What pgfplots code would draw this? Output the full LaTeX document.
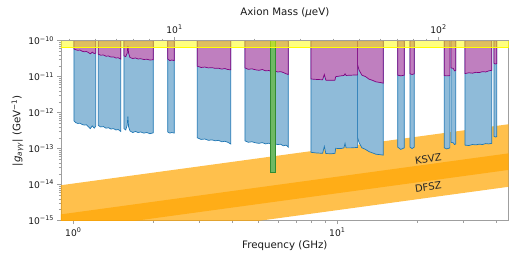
\documentclass[border=0pt]{standalone}
\usepackage{fontspec}
\setmainfont{DejaVu Sans}
\usepackage{pgfplots}
\pgfplotsset{compat=1.18}
\definecolor{bfill}{RGB}{143,187,217}
\definecolor{bedge}{RGB}{31,119,180}
\definecolor{pfill}{RGB}{191,127,191}
\definecolor{pedge}{RGB}{128,0,128}
\definecolor{gfill}{RGB}{110,185,100}
\definecolor{gedge}{RGB}{50,140,50}
\definecolor{orng}{RGB}{255,165,0}
\definecolor{ylw}{RGB}{255,255,0}
\pgfplotsset{
  myaxbase/.style={scale only axis, width=448bp, height=180bp,
    tick align=outside, axis line style={gray!75, line width=0.6pt},
    every tick/.style={gray!75, line width=0.5pt},
    major tick length=3.5bp, minor tick length=2bp,
    tick label style={font=\fontsize{9.2}{10}\selectfont, text=black!90},
    label style={font=\fontsize{10.3}{12}\selectfont, text=black!90}},
  blu/.style={fill=bfill, draw=bedge, line width=0.7pt},
  pur/.style={fill=pfill, draw=pedge, line width=0.7pt},
}
\begin{document}
\begin{tikzpicture}
\begin{axis}[myaxbase, xmode=log, xmin=0.898, xmax=44.6, ymode=log, ymin=1e-15, ymax=1e-10,
  xtick pos=left, ytick pos=left,
  xtick={1,10}, xticklabels={10\textsuperscript{0},10\textsuperscript{1}},
  minor xtick={2,3,4,5,6,7,8,9,20,30,40},
  ytick={1e-15,1e-14,1e-13,1e-12,1e-11,1e-10},
  yticklabels={10\textsuperscript{−15},10\textsuperscript{−14},10\textsuperscript{−13},10\textsuperscript{−12},10\textsuperscript{−11},10\textsuperscript{−10}},
  minor ytick={2e-15,3e-15,4e-15,5e-15,6e-15,7e-15,8e-15,9e-15,2e-14,3e-14,4e-14,5e-14,6e-14,7e-14,8e-14,9e-14,2e-13,3e-13,4e-13,5e-13,6e-13,7e-13,8e-13,9e-13,2e-12,3e-12,4e-12,5e-12,6e-12,7e-12,8e-12,9e-12,2e-11,3e-11,4e-11,5e-11,6e-11,7e-11,8e-11,9e-11},
  xlabel={Frequency (GHz)},
  ylabel={|\textit{g}\textsubscript{\textit{aγγ}}| (GeV\textsuperscript{−1})},
  xlabel style={yshift=2bp}, ylabel style={yshift=-2bp},
]
% QCD axion bands
\addplot[fill=orng, fill opacity=0.7, draw=none] coordinates {(0.898,9.61e-15) (44.6,4.77e-13) (44.6,2.56e-14) (0.898,5.16e-16)} -- cycle;
\addplot[fill=orng, fill opacity=0.7, draw=none] coordinates {(0.898,1.49e-15) (44.6,7.40e-14) (44.6,8.70e-15) (0.898,1.75e-16)} -- cycle;
% blue regions
\addplot[blu] coordinates {(1.006,1e-10) (1.006,5.9e-13) (1.02,5.3e-13) (1.04,5.0e-13) (1.06,5.1e-13) (1.08,4.7e-13) (1.10,4.5e-13) (1.12,4.6e-13) (1.14,4.1e-13) (1.16,3.6e-13) (1.18,4.3e-13) (1.20,3.7e-13) (1.216,4.2e-13) (1.216,1e-10)} -- cycle;
\addplot[blu] coordinates {(1.244,1e-10) (1.244,4.4e-13) (1.27,4.0e-13) (1.30,4.1e-13) (1.33,3.7e-13) (1.36,3.8e-13) (1.39,3.5e-13) (1.42,3.6e-13) (1.45,3.3e-13) (1.48,3.4e-13) (1.512,3.0e-13) (1.512,1e-10)} -- cycle;
\addplot[blu] coordinates {(1.556,1e-10) (1.556,3.6e-13) (1.58,3.3e-13) (1.60,4.5e-13) (1.61,7.8e-13) (1.62,4.0e-13) (1.64,3.1e-13) (1.68,2.8e-13) (1.72,3.0e-13) (1.76,2.8e-13) (1.80,2.9e-13) (1.85,2.7e-13) (1.90,2.8e-13) (1.95,2.6e-13) (2.01,2.75e-13) (2.01,1e-10)} -- cycle;
\addplot[blu] coordinates {(2.279,1e-10) (2.279,2.9e-13) (2.32,2.7e-13) (2.36,2.8e-13) (2.414,2.7e-13) (2.414,1e-10)} -- cycle;
\addplot[blu] coordinates {(2.949,1e-10) (2.949,2.0e-13) (3.05,1.8e-13) (3.15,1.85e-13) (3.25,1.7e-13) (3.35,1.75e-13) (3.45,1.65e-13) (3.55,1.7e-13) (3.65,1.55e-13) (3.75,1.6e-13) (3.85,1.5e-13) (3.947,1.35e-13) (3.947,1e-10)} -- cycle;
\addplot[blu] coordinates {(4.47,1e-10) (4.47,1.65e-13) (4.6,1.5e-13) (4.75,1.55e-13) (4.9,1.45e-13) (5.05,1.4e-13) (5.2,1.47e-13) (5.35,1.35e-13) (5.5,1.42e-13) (5.65,1.3e-13) (5.8,1.35e-13) (5.95,1.3e-13) (6.1,1.32e-13) (6.25,1.2e-13) (6.4,1.25e-13) (6.52,1.1e-13) (6.52,1e-10)} -- cycle;
\addplot[blu] coordinates {(7.95,1e-10) (7.95,7.9e-14) (8.3,7.6e-14) (8.8,7.4e-14) (8.93,1.15e-13) (9.05,7.3e-14) (9.5,7.2e-14) (9.8,7.4e-14) (9.86,1.02e-13) (10.3,1.0e-13) (10.6,1.05e-13) (10.7,1.4e-13) (10.8,1.05e-13) (11.3,1.05e-13) (11.94,1.08e-13) (11.94,1e-10)} -- cycle;
\addplot[blu] coordinates {(11.94,1e-10) (11.94,2.0e-13) (12.1,1.45e-13) (12.4,1.05e-13) (12.8,9.5e-14) (13.2,8.2e-14) (13.6,7.6e-14) (14.0,7.0e-14) (14.5,6.8e-14) (14.93,6.6e-14) (14.93,1e-10)} -- cycle;
\addplot[blu] coordinates {(16.94,1e-10) (16.94,1.1e-13) (17.4,9.5e-14) (17.94,1.05e-13) (17.94,1e-10)} -- cycle;
\addplot[blu] coordinates {(18.86,1e-10) (18.86,1.1e-13) (19.2,1.0e-13) (19.57,1.1e-13) (19.57,1e-10)} -- cycle;
\addplot[blu] coordinates {(25.43,1e-10) (25.43,1.05e-13) (26.0,9.8e-14) (26.7,1.05e-13) (26.7,1e-10)} -- cycle;
\addplot[blu] coordinates {(26.96,1e-10) (26.96,1.5e-13) (27.5,1.45e-13) (27.8,1.3e-13) (28.09,1.35e-13) (28.09,1e-10)} -- cycle;
\addplot[blu] coordinates {(30.46,1e-10) (30.46,1.25e-13) (31.5,1.22e-13) (32.5,1.3e-13) (33.5,1.27e-13) (34.5,1.33e-13) (35.5,1.3e-13) (36.5,1.38e-13) (37.5,1.35e-13) (38.45,1.4e-13) (38.45,1e-10)} -- cycle;
\addplot[blu] coordinates {(39.23,1e-10) (39.23,2.2e-13) (39.7,2.1e-13) (40.17,2.15e-13) (40.17,1e-10)} -- cycle;
% purple regions
\addplot[pur] coordinates {(1.006,1e-10) (1.006,5.9e-11) (1.02,5.6e-11) (1.04,5.4e-11) (1.06,5.5e-11) (1.08,5.1e-11) (1.10,4.9e-11) (1.12,5.0e-11) (1.14,4.7e-11) (1.16,4.3e-11) (1.18,4.8e-11) (1.20,4.4e-11) (1.216,4.5e-11) (1.216,1e-10)} -- cycle;
\addplot[pur] coordinates {(1.244,1e-10) (1.244,4.2e-11) (1.27,3.95e-11) (1.30,4.0e-11) (1.33,3.7e-11) (1.36,3.75e-11) (1.39,3.5e-11) (1.42,3.55e-11) (1.45,3.3e-11) (1.48,3.35e-11) (1.512,3.1e-11) (1.512,1e-10)} -- cycle;
\addplot[pur] coordinates {(1.556,1e-10) (1.556,3.8e-11) (1.58,3.6e-11) (1.60,4.5e-11) (1.61,7.1e-11) (1.62,4.5e-11) (1.64,3.4e-11) (1.68,3.2e-11) (1.72,3.3e-11) (1.76,3.1e-11) (1.80,3.15e-11) (1.85,3.0e-11) (1.90,3.05e-11) (1.95,2.9e-11) (2.01,2.95e-11) (2.01,1e-10)} -- cycle;
\addplot[pur] coordinates {(2.279,1e-10) (2.279,3.1e-11) (2.32,2.8e-11) (2.36,2.9e-11) (2.414,2.8e-11) (2.414,1e-10)} -- cycle;
\addplot[pur] coordinates {(2.949,1e-10) (2.949,1.95e-11) (3.05,1.8e-11) (3.15,1.85e-11) (3.25,1.75e-11) (3.35,1.78e-11) (3.45,1.7e-11) (3.55,1.72e-11) (3.65,1.62e-11) (3.75,1.68e-11) (3.85,1.58e-11) (3.947,1.55e-11) (3.947,1e-10)} -- cycle;
\addplot[pur] coordinates {(4.47,1e-10) (4.47,1.75e-11) (4.6,1.6e-11) (4.75,1.65e-11) (4.9,1.55e-11) (5.05,1.5e-11) (5.2,1.58e-11) (5.35,1.45e-11) (5.5,1.48e-11) (5.65,1.4e-11) (5.8,1.43e-11) (5.95,1.35e-11) (6.1,1.38e-11) (6.25,1.3e-11) (6.4,1.2e-11) (6.52,1.15e-11) (6.52,1e-10)} -- cycle;
\addplot[pur] coordinates {(7.95,1e-10) (7.95,8.6e-12) (8.3,8.4e-12) (8.8,8.2e-12) (8.93,1.15e-11) (9.05,8.0e-12) (9.5,7.9e-12) (9.8,8.0e-12) (9.86,1.0e-11) (10.3,1.05e-11) (10.6,1.08e-11) (10.7,1.2e-11) (10.8,1.08e-11) (11.3,1.1e-11) (11.94,1.12e-11) (11.94,1e-10)} -- cycle;
\addplot[pur] coordinates {(11.94,1e-10) (11.94,2.1e-11) (12.1,1.5e-11) (12.4,1.1e-11) (12.8,1.0e-11) (13.2,8.5e-12) (13.6,7.9e-12) (14.0,7.2e-12) (14.5,6.9e-12) (14.93,6.6e-12) (14.93,1e-10)} -- cycle;
\addplot[pur] coordinates {(16.94,1e-10) (16.94,1.1e-11) (17.4,1.05e-11) (17.94,1.1e-11) (17.94,1e-10)} -- cycle;
\addplot[pur] coordinates {(18.86,1e-10) (18.86,1.2e-11) (19.2,1.15e-11) (19.57,1.2e-11) (19.57,1e-10)} -- cycle;
\addplot[pur] coordinates {(25.43,1e-10) (25.43,1.07e-11) (26.0,1.05e-11) (26.7,1.07e-11) (26.7,1e-10)} -- cycle;
\addplot[pur] coordinates {(26.96,1e-10) (26.96,1.75e-11) (27.5,1.7e-11) (27.8,1.45e-11) (28.09,1.5e-11) (28.09,1e-10)} -- cycle;
\addplot[pur] coordinates {(30.46,1e-10) (30.46,1.22e-11) (31.5,1.28e-11) (32.5,1.25e-11) (33.5,1.32e-11) (34.5,1.3e-11) (35.5,1.38e-11) (36.5,1.35e-11) (37.5,1.45e-11) (38.45,1.5e-11) (38.45,1e-10)} -- cycle;
\addplot[pur] coordinates {(39.23,1e-10) (39.23,2.35e-11) (39.7,2.25e-11) (40.17,2.3e-11) (40.17,1e-10)} -- cycle;
% green bar
\addplot[fill=gfill, draw=gedge, line width=0.8pt] coordinates {(5.56,1e-10) (5.56,2.2e-14) (5.84,2.2e-14) (5.84,1e-10)} -- cycle;
% yellow band
\addplot[fill=ylw, fill opacity=0.5, draw=ylw, line width=1pt] coordinates {(0.898,1e-10) (0.898,6.4e-11) (44.6,6.4e-11) (44.6,1e-10)} -- cycle;
\node[rotate=8, font=\fontsize{10}{12}\selectfont, text=black!85] at (axis cs:22.1,5.1e-14) {KSVZ};
\node[rotate=8, font=\fontsize{10}{12}\selectfont, text=black!85] at (axis cs:22.1,8.5e-15) {DFSZ};
\end{axis}
\begin{axis}[myaxbase, xmode=log, xmin=3.714, xmax=184.45, ymin=0, ymax=1,
  axis x line*=top, axis y line=none,
  xtick={10,100}, xticklabels={10\textsuperscript{1},10\textsuperscript{2}},
  minor xtick={4,5,6,7,8,9,20,30,40,50,60,70,80,90},
  xlabel={Axion Mass (\textit{μ}eV)},
]
\end{axis}
\pgfresetboundingbox
\path ([xshift=-61bp,yshift=-38.3bp]current axis.south west) rectangle ([xshift=8.3bp,yshift=40.7bp]current axis.north east);
\end{tikzpicture}
\end{document}
